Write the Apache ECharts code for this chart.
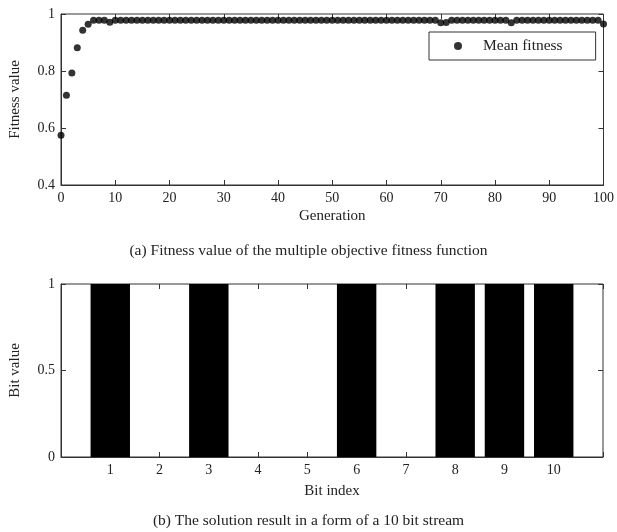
<!DOCTYPE html>
<html>
<head>
<meta charset="utf-8">
<style>
  html, body { margin: 0; padding: 0; background: #fff; }
  #main { width: 617px; height: 532px; }
</style>
<script src="https://cdn.jsdelivr.net/npm/echarts@6/dist/echarts.min.js"></script>
</head>
<body>
<div id="main"></div>
<script>
// mean fitness per generation (0..100)
var fitness = [
  0.575, 0.715, 0.793, 0.882, 0.943, 0.964, 0.978, 0.978, 0.978, 0.971,
  0.978, 0.978, 0.978, 0.978, 0.978, 0.978, 0.978, 0.978, 0.978, 0.978,
  0.978, 0.978, 0.978, 0.978, 0.978, 0.978, 0.978, 0.978, 0.978, 0.978,
  0.978, 0.978, 0.978, 0.978, 0.978, 0.978, 0.978, 0.978, 0.978, 0.978,
  0.978, 0.978, 0.978, 0.978, 0.978, 0.978, 0.978, 0.978, 0.978, 0.978,
  0.978, 0.978, 0.978, 0.978, 0.978, 0.978, 0.978, 0.978, 0.978, 0.978,
  0.978, 0.978, 0.978, 0.978, 0.978, 0.978, 0.978, 0.978, 0.978, 0.978,
  0.969, 0.970, 0.978, 0.978, 0.978, 0.978, 0.978, 0.978, 0.978, 0.978,
  0.978, 0.978, 0.978, 0.969, 0.978, 0.978, 0.978, 0.978, 0.978, 0.978,
  0.978, 0.978, 0.978, 0.978, 0.978, 0.978, 0.978, 0.978, 0.978, 0.978,
  0.965
];
var bitIndex = [1, 2, 3, 4, 5, 6, 7, 8, 9, 10];
var bitValue = [1, 0, 1, 0, 0, 1, 0, 1, 1, 1];

var font = 'Liberation Serif';
var ink = '#222';
var frame = '#333';

var chart = echarts.init(document.getElementById('main'), null, { renderer: 'canvas' });

function mainAxisStyle() {
  return {
    axisLine: { show: true, onZero: false, lineStyle: { color: frame, width: 1 } },
    axisTick: { show: true, inside: true, length: 5, lineStyle: { color: frame } },
    axisLabel: { color: ink, fontFamily: font, fontSize: 14, margin: 6 },
    splitLine: { show: false },
    nameTextStyle: { color: ink, fontFamily: font, fontSize: 15 }
  };
}
// tick-only axes on the top / right edges of the box
function mirrorAxisStyle() {
  return {
    axisLine: { show: false, onZero: false },
    axisTick: { show: true, inside: true, length: 5, lineStyle: { color: frame } },
    axisLabel: { show: false },
    splitLine: { show: false }
  };
}

var option = {
  animation: false,
  backgroundColor: '#fff',
  grid: [
    { left: 61, top: 14, width: 543, height: 171, show: true, borderColor: frame, borderWidth: 1 },
    { left: 61, top: 284, width: 542, height: 173, show: true, borderColor: frame, borderWidth: 1 }
  ],
  legend: {
    data: ['Mean fitness'],
    left: 429, top: 32,
    orient: 'vertical',
    padding: [6, 33, 6, 25],
    borderColor: frame, borderWidth: 1,
    itemWidth: 8, itemHeight: 8,
    icon: 'circle',
    textStyle: { color: ink, fontFamily: font, fontSize: 15.5, padding: [0, 0, 0, 16] }
  },
  xAxis: [
    Object.assign(mainAxisStyle(), {
      type: 'value', gridIndex: 0, position: 'bottom',
      min: 0, max: 100, interval: 10,
      name: 'Generation', nameLocation: 'middle', nameGap: 24
    }),
    Object.assign(mirrorAxisStyle(), {
      type: 'value', gridIndex: 0, position: 'top',
      min: 0, max: 100, interval: 10
    }),
    Object.assign(mainAxisStyle(), {
      type: 'value', gridIndex: 1, position: 'bottom',
      min: 0, max: 11, interval: 1,
      name: 'Bit index', nameLocation: 'middle', nameGap: 27
    }),
    Object.assign(mirrorAxisStyle(), {
      type: 'value', gridIndex: 1, position: 'top',
      min: 0, max: 11, interval: 1
    })
  ],
  yAxis: [
    Object.assign(mainAxisStyle(), {
      type: 'value', gridIndex: 0, position: 'left',
      min: 0.4, max: 1, interval: 0.2,
      name: 'Fitness value', nameLocation: 'middle', nameGap: 38
    }),
    Object.assign(mirrorAxisStyle(), {
      type: 'value', gridIndex: 0, position: 'right',
      min: 0.4, max: 1, interval: 0.2
    }),
    Object.assign(mainAxisStyle(), {
      type: 'value', gridIndex: 1, position: 'left',
      min: 0, max: 1, interval: 0.5,
      name: 'Bit value', nameLocation: 'middle', nameGap: 38
    }),
    Object.assign(mirrorAxisStyle(), {
      type: 'value', gridIndex: 1, position: 'right',
      min: 0, max: 1, interval: 0.5
    })
  ],
  series: [
    {
      name: 'Mean fitness',
      type: 'scatter',
      xAxisIndex: 0, yAxisIndex: 0,
      symbol: 'circle', symbolSize: 7,
      itemStyle: { color: '#000' },
      data: fitness.map(function (v, i) { return [i, v]; })
    },
    {
      name: 'Bits',
      type: 'bar',
      xAxisIndex: 2, yAxisIndex: 2,
      barWidth: '80%',
      itemStyle: { color: '#000', borderWidth: 0 },
      data: bitIndex.map(function (b, i) { return [b, bitValue[i]]; })
    }
  ],
  graphic: [
    { type: 'text', left: 'center', top: 243, style: { text: '(a) Fitness value of the multiple objective fitness function', fill: ink, font: '15.5px "Liberation Serif"' } },
    { type: 'text', left: 'center', top: 513, style: { text: '(b) The solution result in a form of a 10 bit stream', fill: ink, font: '15.5px "Liberation Serif"' } }
  ]
};

// hide labels at the frame ends of the bit axis
option.xAxis[2].axisLabel.formatter = function (v) {
  return (v >= 1 && v <= 10) ? String(v) : '';
};

chart.setOption(option);
</script>
</body>
</html>
